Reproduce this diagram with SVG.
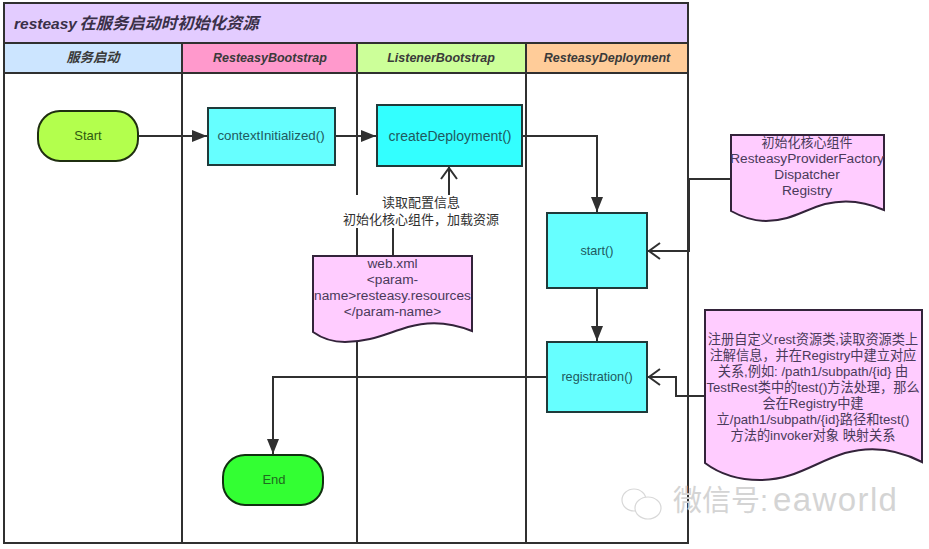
<svg xmlns="http://www.w3.org/2000/svg" width="929" height="549" viewBox="0 0 929 549">
<style>
text{font-family:"Liberation Sans","Noto Sans CJK SC",sans-serif;font-size:13px;fill:#303030;text-anchor:middle}
.hd{font-size:12.5px;font-weight:bold;font-style:italic;fill:#3a3a3a}
.b{stroke:#303030;stroke-width:2}
.ln{fill:none;stroke:#303030;stroke-width:2}
.arr{marker-end:url(#fill)}
.opn{marker-end:url(#open)}
.cy{fill:#66ffff;stroke:#1f3a3a;stroke-width:2}
.cyt{fill:#1f5a60}
.doc{fill:#ffccff;stroke:#33233a;stroke-width:2}
.dt{fill:#4a3a5a;font-size:13.7px}
.dr{fill:#4a3a5a;font-size:13.2px}
.wm{fill:#d4d4d4;text-anchor:start}
.ic{fill:#fff;stroke:#d8d8d8;stroke-width:1.2}
</style>
<defs>
<marker id="fill" markerUnits="userSpaceOnUse" markerWidth="16" markerHeight="12" refX="15" refY="6" orient="auto"><path d="M0 0L15 6L0 12Z" fill="#303030"/></marker>
<marker id="open" markerUnits="userSpaceOnUse" markerWidth="16" markerHeight="20" refX="15" refY="10" orient="auto"><path d="M3 2L14 10L3 18" fill="none" stroke="#303030" stroke-width="2"/></marker>
</defs>
<rect width="929" height="549" fill="#fff"/>
<g id="lanes">
<rect x="4" y="3" width="684" height="40" fill="#e3ccff"/>
<rect x="4" y="43" width="178" height="30" fill="#cce5ff"/>
<rect x="182" y="43" width="175" height="30" fill="#ff99cc"/>
<rect x="357" y="43" width="169" height="30" fill="#ccff99"/>
<rect x="526" y="43" width="162" height="30" fill="#ffcc99"/>
<rect x="4" y="3" width="684" height="540" fill="none" class="b"/>
<path class="b" d="M4 43H688M4 73H688M182 43V543M357 43V543M526 43V543"/>
<text x="14" y="29" style="text-anchor:start;font-size:15.5px;font-weight:bold;font-style:italic;fill:#3a3048">resteasy<tspan dx="-2" style="font-size:16.3px"> 在服务启动时初始化资源</tspan></text>
<text class="hd" x="93" y="62" style="font-size:13.3px">服务启动</text>
<text class="hd" x="270" y="62">ResteasyBootstrap</text>
<text class="hd" x="441" y="62">ListenerBootstrap</text>
<text class="hd" x="607" y="62">ResteasyDeployment</text>
</g>
<g id="connectors">
<path class="ln arr" d="M138 136H207"/>
<path class="ln arr" d="M335 136H376"/>
<path class="ln arr" d="M522 136H597V212"/>
<path class="ln arr" d="M597 288V341"/>
<path class="ln arr" d="M547 377H273V454"/>
<path class="ln opn" d="M393 256V211H449V167"/>
<path class="ln opn" d="M730 179H689V251H648"/>
<path class="ln opn" d="M705 396H676V377H648"/>
</g>
<g id="label-config">
<rect x="340" y="195" width="162" height="33" fill="#fff"/>
<text x="421" y="207">读取配置信息</text>
<text x="421" y="224">初始化核心组件，加载资源</text>
</g>
<g id="start"><rect x="38" y="111" width="100" height="50" rx="22" ry="22" fill="#b3ff4d" stroke="#1f2f10" stroke-width="2"/><text x="88" y="140" style="fill:#2f5a10">Start</text></g>
<g id="contextInitialized"><rect class="cy" x="208" y="108" width="127" height="57"/><text class="cyt" x="271" y="140" style="font-size:13.3px">contextInitialized()</text></g>
<g id="createDeployment"><rect x="377" y="105" width="145" height="61" fill="#33ffff" stroke="#1f3a3a" stroke-width="2"/><text class="cyt" x="450" y="141" style="font-size:14px">createDeployment()</text></g>
<g id="startNode"><rect class="cy" x="547" y="213" width="100" height="75"/><text class="cyt" x="597" y="255" style="font-size:12.7px">start()</text></g>
<g id="registration"><rect class="cy" x="547" y="342" width="100" height="70"/><text class="cyt" x="597" y="381" style="font-size:12.7px">registration()</text></g>
<g id="end"><rect x="223" y="455" width="100" height="50" rx="22" ry="22" fill="#33ff33" stroke="#103010" stroke-width="2"/><text x="274" y="484" style="fill:#1f6a1f">End</text></g>
<g id="webxml">
<path class="doc" d="M313 256H472V331C450 322 428 321 408 327C385 334 370 342 345 342C331 342 320 337 313 332Z"/>
<text class="dt" x="392.500" y="268">web.xml</text>
<text class="dt" x="392.500" y="284">&lt;param-</text>
<text class="dt" x="392.500" y="300">name&gt;resteasy.resources</text>
<text class="dt" x="392.500" y="316">&lt;/param-name&gt;</text>
</g>
<g id="doc-core">
<path class="doc" d="M731 135H884V210C864 201 845 199 825 204C804 210 790 221 766 221C752 221 740 216 731 211Z"/>
<text class="dt" x="807" y="147" style="font-size:13px">初始化核心组件</text>
<text class="dt" x="807" y="163">ResteasyProviderFactory</text>
<text class="dt" x="807" y="179">Dispatcher</text>
<text class="dt" x="807" y="195">Registry</text>
</g>
<g id="doc-registry">
<path class="doc" d="M705 310H922V462C895 448 870 446 845 453C815 462 795 480 760 480C735 480 717 472 705 463Z"/>
<text class="dr" x="813" y="344">注册自定义rest资源类,读取资源类上</text>
<text class="dr" x="813" y="360">注解信息，并在Registry中建立对应</text>
<text class="dr" x="813" y="376">关系,例如: /path1/subpath/{id} 由</text>
<text class="dr" x="813" y="392">TestRest类中的test()方法处理，那么</text>
<text class="dr" x="813" y="408">会在Registry中建</text>
<text class="dr" x="813" y="424">立/path1/subpath/{id}路径和test()</text>
<text class="dr" x="813" y="440">方法的invoker对象 映射关系</text>
</g>
<g id="watermark">
<ellipse class="ic" cx="634" cy="500" rx="12" ry="11"/>
<ellipse class="ic" cx="648" cy="508" rx="13" ry="11"/>
<text class="wm" x="673" y="511" style="font-size:29px">微信号:</text>
<text class="wm" x="773" y="511" style="font-size:33px;letter-spacing:1.4px">eaworld</text>
</g>
</svg>
